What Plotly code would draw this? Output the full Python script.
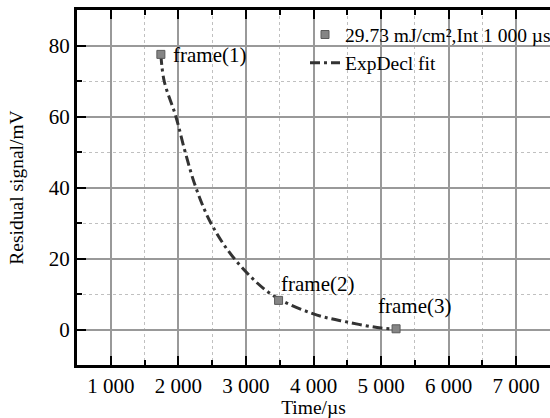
import plotly.graph_objects as go

# Measured data points
frame_x = [1741, 3483, 5222]
frame_y = [77.5, 8.2, 0.2]
frame_labels = ["frame(1)", "frame(2)", "frame(3)"]

# ExpDecl fit curve
fit_x = [1741, 1790, 1963, 2101, 2259, 2481, 2827, 3370, 4000, 4500, 5000, 5222]
fit_y = [77.5, 70, 60, 50, 40, 30, 20, 10, 4.4, 2.1, 0.4, 0.1]

# axis ticks
x_range = [500, 7500]
y_range = [-10, 90]
x_tickvals = [1000, 2000, 3000, 4000, 5000, 6000, 7000]
x_ticktext = ["1 000", "2 000", "3 000", "4 000", "5 000", "6 000", "7 000"]
x_minorvals = [1500, 2500, 3500, 4500, 5500, 6500]
y_tickvals = [0, 20, 40, 60, 80]
y_ticktext = ["0", "20", "40", "60", "80"]
y_minorvals = [10, 30, 50, 70]

series_name = "29.73 mJ/cm²,Int 1 000 µs"
fit_name = "ExpDecl fit"

FONT = "Liberation Serif"
W, H = 550, 418
L, R, T, B = 77, 0, 10, 53
PW, PH = W - L - R, H - T - B

fig = go.Figure()
fig.add_trace(go.Scatter(
    x=fit_x, y=fit_y, mode="lines", name=fit_name, line_shape="spline",
    line=dict(color="#333333", width=3, dash="10px,4px,3px,4px"),
))
fig.add_trace(go.Scatter(
    x=frame_x, y=frame_y, mode="markers", name=series_name,
    marker=dict(symbol="square", size=8, color="#858585",
                line=dict(color="#5a5a5a", width=1)),
))

# annotations
offsets = [(1891, 77.3), (3489, 12.8), (4925, 6.7)]
for lab, (ax_, ay_) in zip(frame_labels, offsets):
    fig.add_annotation(x=ax_, y=ay_, xref="x", yref="y", text=lab, showarrow=False,
                       xanchor="left", yanchor="middle",
                       font=dict(family=FONT, size=21, color="black"))

# white area behind the legend hiding the grid
shapes = [dict(type="rect", xref="paper", yref="paper", x0=(277 - L) / PW, x1=1.0,
               y0=1 - (72 - T) / PH, y1=1.0, fillcolor="white", line_width=0,
               layer="between")]

axis_common = dict(
    showline=True, linecolor="black", linewidth=3,
    ticks="inside", ticklen=9, tickwidth=2, tickcolor="black",
    showgrid=True, gridcolor="#999999", gridwidth=1.5, zeroline=False,
    tickfont=dict(family=FONT, size=21), layer="above traces",
)

fig.update_layout(
    width=W, height=H,
    margin=dict(l=L, r=R, t=T, b=B, autoexpand=False),
    paper_bgcolor="white", plot_bgcolor="white",
    font=dict(family=FONT, size=20, color="black"),
    legend=dict(x=(305 - L) / PW, xanchor="left", y=0.985, yanchor="top",
                bgcolor="rgba(255,255,255,0)", font=dict(family=FONT, size=19.5),
                traceorder="reversed", itemwidth=30, tracegroupgap=0),
    showlegend=True,
    shapes=shapes,
    xaxis=dict(
        range=x_range, tickmode="array", tickvals=x_tickvals, ticktext=x_ticktext,
        mirror="ticks",
        minor=dict(tickmode="array", tickvals=x_minorvals, ticks="inside", ticklen=5,
                   tickwidth=1.5, tickcolor="black", showgrid=True,
                   gridcolor="#c0c0c0", griddash="dot", gridwidth=1),
        title=dict(text="Time/µs", font=dict(family=FONT, size=19.5), standoff=0),
        **axis_common,
    ),
    yaxis=dict(
        range=y_range, tickmode="array", tickvals=y_tickvals, ticktext=y_ticktext,
        mirror=False,
        minor=dict(tickmode="array", tickvals=y_minorvals, ticks="inside", ticklen=5,
                   tickwidth=1.5, tickcolor="black", showgrid=True,
                   gridcolor="#c0c0c0", griddash="dot", gridwidth=1),
        title=dict(text="Residual signal/mV", font=dict(family=FONT, size=19.5), standoff=20),
        **axis_common,
    ),
)

fig.write_html("out.html")
